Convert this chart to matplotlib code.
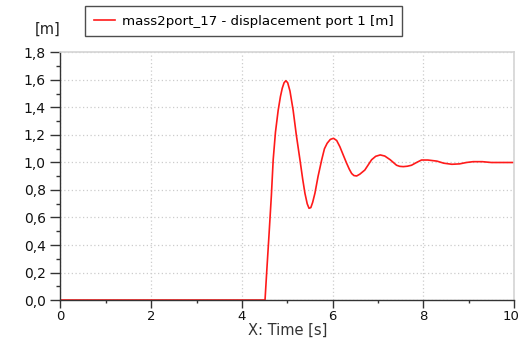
import matplotlib
matplotlib.use('Agg')
import matplotlib.pyplot as plt
from matplotlib.ticker import MultipleLocator, FuncFormatter

# displacement of port 1 over time
time_s = [0.0, 4.51, 4.55, 4.60, 4.65, 4.69, 4.74, 4.80, 4.85, 4.89, 4.93, 4.97,
          5.01, 5.06, 5.13, 5.20, 5.28, 5.34, 5.39, 5.44, 5.48, 5.52, 5.56, 5.61,
          5.68, 5.76, 5.82, 5.88, 5.95, 6.02, 6.09, 6.16, 6.24, 6.31, 6.37, 6.42,
          6.47, 6.53, 6.60, 6.71, 6.79, 6.86, 6.95, 7.05, 7.15, 7.27, 7.34, 7.41,
          7.48, 7.56, 7.65, 7.74, 7.85, 7.96, 8.10, 8.30, 8.45, 8.63, 8.80, 8.95,
          9.10, 9.30, 9.50, 10.0]
disp_m = [0.0, 0.0, 0.22, 0.485, 0.76, 1.02, 1.22, 1.38, 1.48, 1.54, 1.58, 1.595,
          1.58, 1.52, 1.38, 1.20, 1.02, 0.88, 0.776, 0.70, 0.667, 0.672, 0.71, 0.776,
          0.90, 1.02, 1.10, 1.14, 1.168, 1.176, 1.16, 1.115, 1.05, 0.994, 0.95, 0.92,
          0.905, 0.902, 0.915, 0.945, 0.985, 1.02, 1.045, 1.055, 1.047, 1.02, 1.00, 0.98,
          0.972, 0.97, 0.973, 0.98, 1.00, 1.018, 1.018, 1.01, 0.995, 0.987, 0.99, 1.00,
          1.006, 1.006, 1.0, 1.0]

legend_label = 'mass2port_17 - displacement port 1 [m]'
t_max = 10

plt.rcParams['font.family'] = ['DejaVu Sans']

fig = plt.figure(figsize=(5.2, 3.44), dpi=100)
ax = fig.add_axes([0.1163, 0.1279, 0.8722, 0.7195])

line, = ax.plot(time_s, disp_m, color='#ff1a1a', lw=1.2)

ax.set_xlim(0, t_max)
ax.set_ylim(0, 1.8)
ax.xaxis.set_major_locator(MultipleLocator(2))
ax.xaxis.set_minor_locator(MultipleLocator(1))
ax.yaxis.set_major_locator(MultipleLocator(0.2))
ax.yaxis.set_minor_locator(MultipleLocator(0.1))

comma = FuncFormatter(lambda v, p: ('%.1f' % v).replace('.', ','))
ax.yaxis.set_major_formatter(comma)
# the end label is placed by hand so it stays on the canvas
ax.xaxis.set_major_formatter(FuncFormatter(lambda v, p: '' if round(v) == t_max else '%d' % round(v)))

ax.grid(True, which='major', color='#cccccc', ls=(0, (1, 2)), lw=0.9)

for side in ('left', 'bottom'):
    ax.spines[side].set_color('#333333')
    ax.spines[side].set_linewidth(1.0)
for side in ('top', 'right'):
    ax.spines[side].set_color('#d4d4d4')
    ax.spines[side].set_linewidth(1.2)

ax.tick_params(axis='y', which='major', length=7, width=1, color='#333333',
               pad=3.5, labelsize=10, labelcolor='#111111')
ax.tick_params(axis='y', which='minor', length=3.2, width=1, color='#333333')
ax.tick_params(axis='x', which='major', length=5.5, width=1, color='#333333',
               pad=1.5, labelsize=9.5, labelcolor='#111111')
ax.tick_params(axis='x', which='minor', length=2.3, width=1, color='#333333')

ax.annotate('%d' % t_max, xy=(t_max, 0), xycoords=('data', 'axes fraction'),
            xytext=(-2, -7), textcoords='offset points', ha='center', va='top',
            fontsize=9.5, color='#111111', annotation_clip=False)

ax.set_xlabel('X: Time [s]', fontsize=10.5, color='#333333', labelpad=0)
fig.text(0.067, 0.916, '[m]', fontsize=10.5, color='#222222', ha='left', va='center')

leg = fig.legend([line], [legend_label], loc='upper left',
                 bbox_to_anchor=(0.164, 0.983), borderaxespad=0, fontsize=9.6,
                 frameon=True, fancybox=False, edgecolor='#222222', borderpad=0.65,
                 handlelength=1.6, handletextpad=0.5)
leg.get_frame().set_linewidth(1.0)

fig.savefig('out.png', dpi=100)
